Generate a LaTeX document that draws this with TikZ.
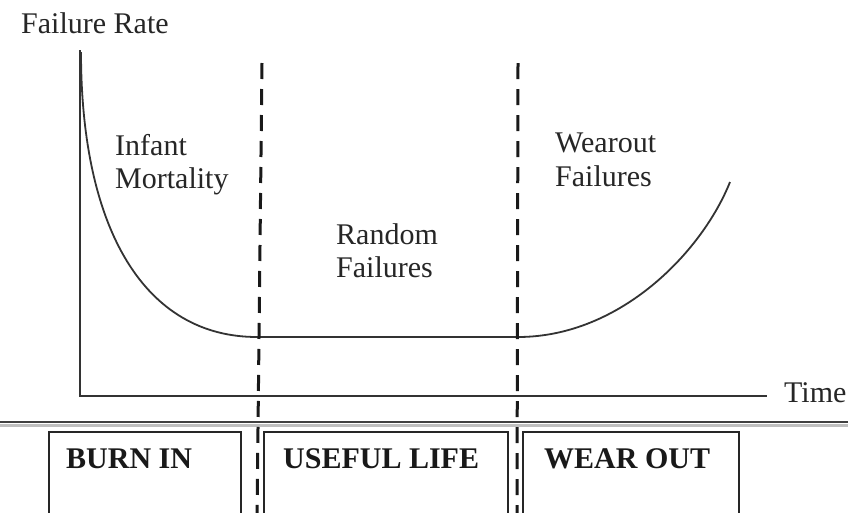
\documentclass[tikz,border=0pt]{standalone}
\usepackage{fontspec}
\setmainfont{Liberation Serif}
\begin{document}
\begin{tikzpicture}[x=1pt,y=-1pt,
  lbl/.style={inner sep=0pt, anchor=base west, font=\fontsize{30}{33}\selectfont, text=black!85},
  boxlbl/.style={inner sep=0pt, anchor=base west, font=\fontsize{30}{33}\selectfont\bfseries, text=black!90},
  axis/.style={line width=1.6pt, black!80},
  curve/.style={line width=1.8pt, black!80, line join=round},
  divider/.style={line width=3pt, black!90, dash pattern=on 16pt off 10pt},
  phasebox/.style={line width=1.4pt, black!85}]
\useasboundingbox (0,0) rectangle (848,512);
\clip (0,0) rectangle (848,512);
\fill[white] (0,0) rectangle (848,512);
% axes
\coordinate (o) at (80,396);
\coordinate (ytop) at (80,50);
\coordinate (xend) at (767,396);
\draw[axis] (ytop) -- (o) -- (xend);
% bathtub curve
\coordinate (c0) at (81,52);
\coordinate (c1) at (257,337);
\coordinate (c2) at (518,337);
\coordinate (c3) at (730,182);
\draw[curve] (c0) .. controls (81,230) and (145,337) .. (c1) -- (c2)
  .. controls (620,337) and (702,252) .. (c3);
% separator line
\draw[line width=3pt, black!25] (0,425.5) -- (848,425.5);
\draw[line width=2pt, black!75] (0,422) -- (848,422);
% phase boxes
\draw[phasebox] (49,432) rectangle (241,530);
\draw[phasebox] (264,432) rectangle (508,530);
\draw[phasebox] (523,432) rectangle (739,530);
% dividers
\coordinate (d1t) at (262,63);
\coordinate (d1b) at (257,520);
\coordinate (d2t) at (518,63);
\coordinate (d2b) at (517,520);
\draw[divider] (d1t) -- (d1b);
\draw[divider] (d2t) -- (d2b);
% texts
\node[lbl] (yl) at (21,33) {Failure Rate};
\node[lbl] (xl) at (784,402) {Time};
\node[lbl] (im1) at (115,155) {Infant};
\node[lbl] (im2) at (115,188) {Mortality};
\node[lbl] (rf1) at (336,244) {Random};
\node[lbl] (rf2) at (336,277) {Failures};
\node[lbl] (wf1) at (555,152) {Wearout};
\node[lbl] (wf2) at (555,186) {Failures};
\node[boxlbl] (b1) at (66,468) {BURN IN};
\node[boxlbl] (b2) at (283,468) {USEFUL LIFE};
\node[boxlbl] (b3) at (544,468) {WEAR OUT};
\end{tikzpicture}
\end{document}
